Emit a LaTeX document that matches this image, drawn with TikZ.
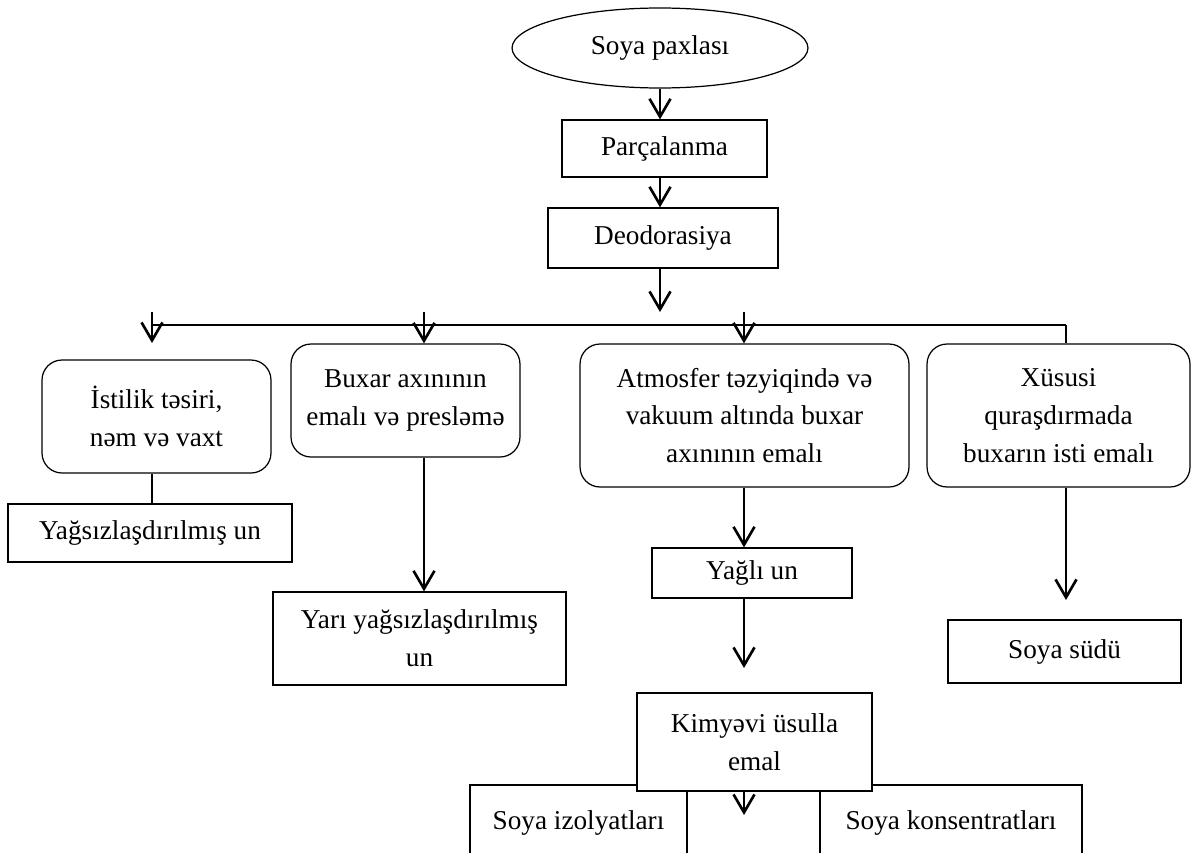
\documentclass[tikz,border=0pt]{standalone}
\usepackage{fontspec}
\setmainfont{Liberation Serif}
\usetikzlibrary{shapes.geometric,arrows.meta}
\begin{document}
\begin{tikzpicture}[x=0.02cm, y=-0.02cm,
        font=\fontsize{15.5pt}{21.5pt}\selectfont,
        box/.style={draw, rectangle, line width=0.7pt, align=center, inner sep=0pt},
        roundbox/.style={box, rounded corners=0.4cm},
        arr/.style={line width=1.5pt, -{Straight Barb[length=0.36cm, width=0.42cm]}},
        link/.style={line width=1.5pt}]
            \useasboundingbox (0,0) rectangle (1195,852);
            \clip (0,0) rectangle (1195,852);
            \node[draw, ellipse, line width=0.7pt, minimum width=5.92cm, minimum height=1.6cm] (paxla) at (660,48) {Soya paxlası};
            \node[box, minimum width=4.1cm, minimum height=1.14cm] (parca) at (664.5,148.5) {Parçalanma};
            \node[box, minimum width=4.6cm, minimum height=1.2cm] (deodor) at (663,238) {Deodorasiya};
            \node[roundbox, minimum width=4.58cm, minimum height=2.26cm] (istilik) at (156.5,416.5) {İstilik təsiri,\\nəm və vaxt};
            \node[roundbox, minimum width=4.58cm, minimum height=2.26cm] (buxar) at (405.5,400.5) {Buxar axınının\\emalı və presləmə};
            \node[roundbox, minimum width=6.58cm, minimum height=2.86cm] (atmos) at (744.5,415.5) {Atmosfer təzyiqində və\\vakuum altında buxar\\axınının emalı};
            \node[roundbox, minimum width=5.26cm, minimum height=2.86cm] (xusus) at (1058.5,415.5) {Xüsusi\\quraşdırmada\\buxarın isti emalı};
            \node[box, minimum width=5.68cm, minimum height=1.16cm] (yagsiz) at (150,533) {Yağsızlaşdırılmış un};
            \node[box, minimum width=5.86cm, minimum height=1.86cm] (yari) at (419.5,638.5) {Yarı yağsızlaşdırılmış\\un};
            \node[box, minimum width=4.0cm, minimum height=1.0cm] (yagli) at (752,573) {Yağlı un};
            \node[box, minimum width=4.66cm, minimum height=1.26cm] (sud) at (1064.5,651.5) {Soya südü};
            \node[box, minimum width=4.34cm, minimum height=1.5cm] (izol) at (578.5,822.5) {Soya izolyatları};
            \node[box, minimum width=2.66cm, minimum height=1.5cm] (orta) at (753.5,822.5) {};
            \node[box, minimum width=5.24cm, minimum height=1.5cm] (kons) at (951,822.5) {Soya konsentratları};
            \node[box, fill=white, minimum width=4.7cm, minimum height=1.96cm] (kimya) at (754.5,742) {Kimyəvi üsulla\\emal};
            \coordinate (dtip) at (660,312);
            \coordinate (hl) at (152,325);
            \coordinate (hr) at (1066,325);
            \coordinate (a1) at (152,312);
            \coordinate (a1e) at (152,343);
            \coordinate (a2) at (424,312);
            \coordinate (a3) at (744,312);
            \coordinate (ytip) at (744,668);
            \coordinate (stip) at (1066,600);
            \coordinate (ktip) at (744,815);
            \draw[arr] (paxla.south) -- (paxla.south |- parca.north);
            \draw[arr] (parca.south -| paxla.south) -- (deodor.north -| paxla.south);
            \draw[arr] (deodor.south -| dtip) -- (dtip);
            \draw[line width=0.7pt] (hl) -- (hr);
            \draw[arr] (a1) -- (a1e);
            \draw[arr] (a2) -- (a2 |- buxar.north);
            \draw[arr] (a3) -- (a3 |- atmos.north);
            \draw[link] (hr) -- (hr |- xusus.north);
            \draw[link] (istilik.south -| a1) -- (yagsiz.north -| a1);
            \draw[arr] (buxar.south -| a2) -- (yari.north -| a2);
            \draw[arr] (atmos.south -| a3) -- (yagli.north -| a3);
            \draw[arr] (yagli.south -| ytip) -- (ytip);
            \draw[arr] (xusus.south -| stip) -- (stip);
            \draw[arr] (kimya.south -| ktip) -- (ktip);
        \end{tikzpicture}
\end{document}
